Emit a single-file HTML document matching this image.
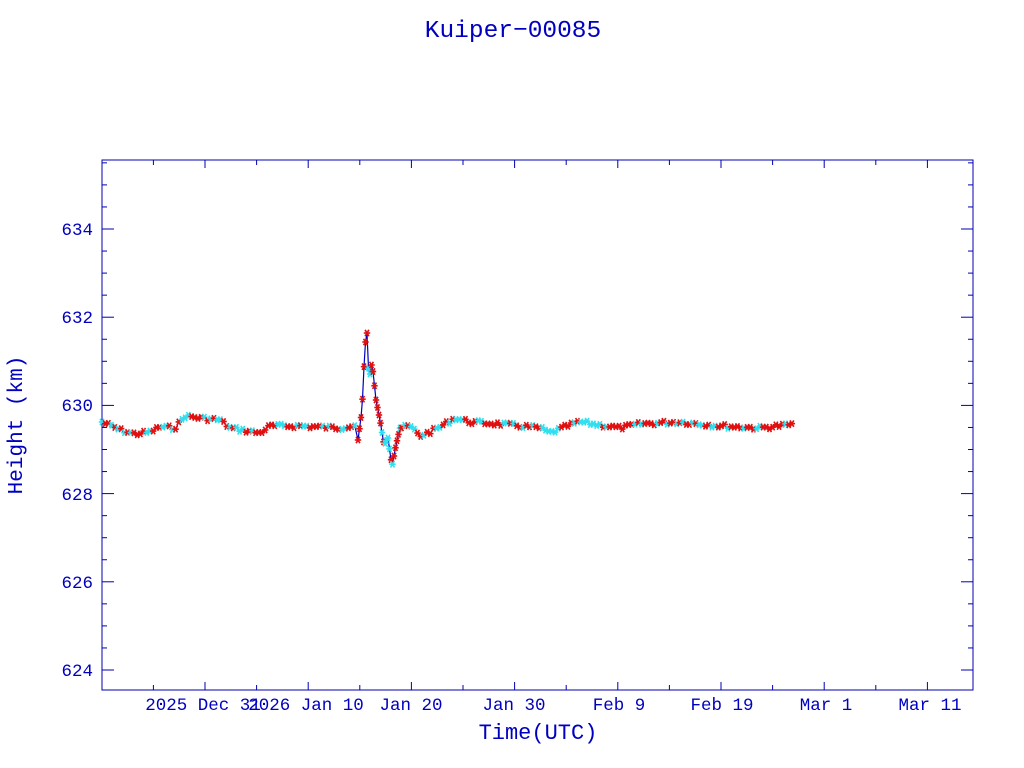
<!DOCTYPE html>
<html><head><meta charset="utf-8"><style>
html,body{margin:0;padding:0;background:#fff;width:1024px;height:768px;overflow:hidden}
svg text{font-family:"Liberation Mono",monospace;fill:#0000c0}
</style></head><body>
<svg id="s" width="1024" height="768" xmlns="http://www.w3.org/2000/svg">
<text x="513" y="37" font-size="24.5" text-anchor="middle">Kuiper−00085</text>
<rect x="102" y="160" width="871" height="530" fill="none" stroke="#0000b0" stroke-width="1"/>
<g id="ax" stroke="#0000b0" stroke-width="1"></g>
<g font-size="17.5">
<text x="93" y="235" text-anchor="end">634</text>
<text x="93" y="323" text-anchor="end">632</text>
<text x="93" y="411" text-anchor="end">630</text>
<text x="93" y="500" text-anchor="end">628</text>
<text x="93" y="588" text-anchor="end">626</text>
<text x="93" y="676" text-anchor="end">624</text>
<text x="203" y="710" text-anchor="middle">2025 Dec 31</text>
<text x="306" y="710" text-anchor="middle">2026 Jan 10</text>
<text x="411" y="710" text-anchor="middle">Jan 20</text>
<text x="514" y="710" text-anchor="middle">Jan 30</text>
<text x="619" y="710" text-anchor="middle">Feb  9</text>
<text x="722" y="710" text-anchor="middle">Feb 19</text>
<text x="826" y="710" text-anchor="middle">Mar  1</text>
<text x="930" y="710" text-anchor="middle">Mar 11</text>
</g>
<text x="538" y="739" font-size="22" text-anchor="middle">Time(UTC)</text>
<text transform="translate(22,425) rotate(-90)" font-size="21" text-anchor="middle">Height (km)</text>
<g id="d"></g>
</svg>
<script>
var ns="http://www.w3.org/2000/svg",ax=document.getElementById("ax"),d=document.getElementById("d");
function L(p,x1,y1,x2,y2,c,w){var l=document.createElementNS(ns,"line");l.setAttribute("x1",x1);l.setAttribute("y1",y1);l.setAttribute("x2",x2);l.setAttribute("y2",y2);if(c){l.setAttribute("stroke",c);l.setAttribute("stroke-width",w||1)}p.appendChild(l);}
for(var v=624;v<=635.5;v+=0.5){var y=670-(v-624)*44.1;var len=(Math.abs(v-Math.round(v/2)*2)<0.01)?12:5;L(ax,102,y,102+len,y);L(ax,973,y,973-len,y);}
for(var i=-2;i<20;i++){var x=205+i*51.6;if(x<102||x>973)continue;var len=(i%2==0)?8:5;L(ax,x,690,x,690-len);L(ax,x,160,x,160+len);}
var k=[[102,422],[120,430],[135,434],[150,432],[160,427],[175,428],[185,416],[200,418],[220,420],[230,428],[260,433],[270,426],[300,426],[340,428],[355,425],[358,440],[362,410],[365,345],[367,333],[369,380],[372,362],[376,400],[380,420],[384,445],[388,438],[392,467],[396,445],[400,428],[410,426],[420,436],[430,432],[440,427],[455,418],[470,422],[500,424],[540,428],[550,433],[570,425],[580,422],[620,428],[640,424],[680,422],[720,426],[760,428],[795,424]];
function f(x){for(var i=0;i<k.length-1;i++){if(x<=k[i+1][0]){var t=(x-k[i][0])/(k[i+1][0]-k[i][0]);return k[i][1]+t*(k[i+1][1]-k[i][1]);}}return k[k.length-1][1];}
var seed=7;function r(){seed=(seed*9301+49297)%233280;return seed/233280;}
var pts=[];for(var x=102;x<=795;x+=(x>355&&x<400)?1.5:3.2){var n=(x>355&&x<400)?0:(r()-0.5)*4;pts.push([x,f(x)+n]);}
var pl=document.createElementNS(ns,"polyline");pl.setAttribute("points",pts.map(function(p){return p[0].toFixed(1)+","+p[1].toFixed(1)}).join(" "));pl.setAttribute("fill","none");pl.setAttribute("stroke","#0000c0");pl.setAttribute("stroke-width","1.2");d.appendChild(pl);
function star(x,y,c){var s=3.2;L(d,x-s,y,x+s,y,c,1.6);L(d,x-s*0.6,y-s,x+s*0.6,y+s,c,1.6);L(d,x+s*0.6,y-s,x-s*0.6,y+s,c,1.6);}
pts.forEach(function(p,i){var c=(r()<0.35)?"#30e0f0":"#e01010";star(p[0],p[1],c);});
</script>
</body></html>
